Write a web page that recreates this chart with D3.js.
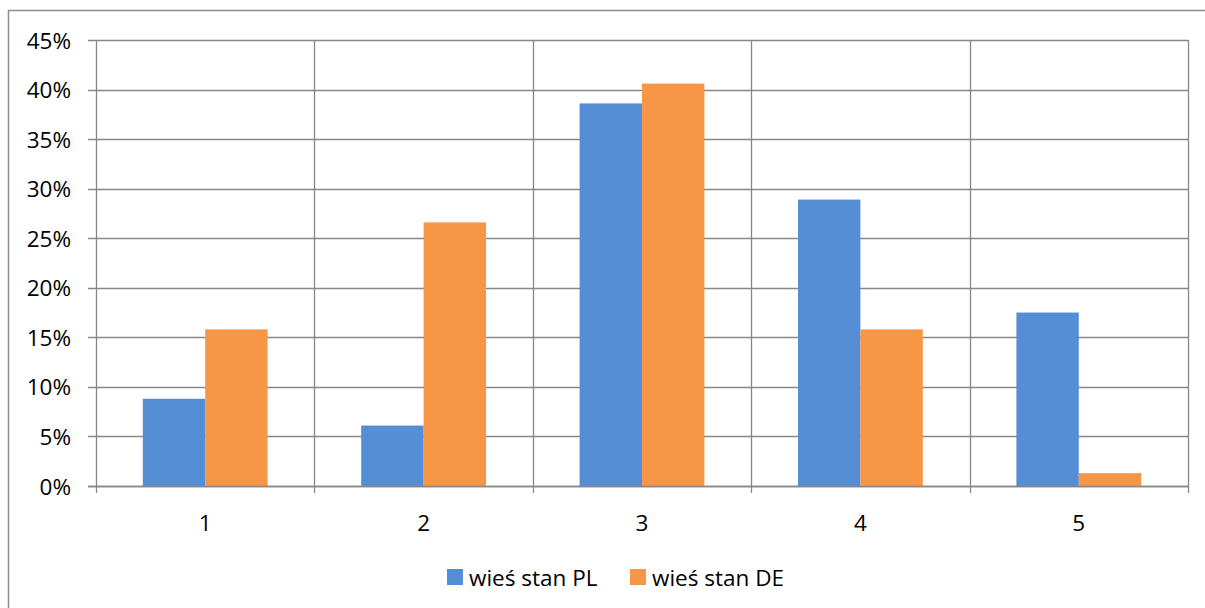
<!DOCTYPE html>
<html>
<head>
<meta charset="utf-8">
<script src="https://cdn.jsdelivr.net/npm/d3@7"></script>
<style>
  html, body { margin: 0; padding: 0; background: #fff; }
  svg { display: block; }
  text { font-family: "Open Sans", "Noto Sans", sans-serif; fill: #000; }
</style>
</head>
<body>
<svg id="chart" width="1205" height="608"></svg>
<script>
// ---- data ----
const categories = ["1", "2", "3", "4", "5"];
const seriesNames = ["wieś stan PL", "wieś stan DE"];
const valuesPL = [0.088, 0.061, 0.386, 0.289, 0.175];
const valuesDE = [0.158, 0.266, 0.406, 0.158, 0.013];
const yTicks = [0, 0.05, 0.10, 0.15, 0.20, 0.25, 0.30, 0.35, 0.40, 0.45];
const seriesColors = ["#558ed5", "#f79646"];

const svg = d3.select("#chart");
const W = 1205, H = 608;
const plot = { left: 96, right: 1188, top: 40, bottom: 486 };
const gridColor = "#878787";
const fontSize = "22.5px";

// outer frame (extends beyond visible area)
svg.append("rect")
  .attr("x", 8.5).attr("y", 10.5)
  .attr("width", W + 20).attr("height", H + 20)
  .attr("fill", "#fff").attr("stroke", "#8c8c8c").attr("stroke-width", 1.5);

const y = d3.scaleLinear().domain([0, 0.45]).range([plot.bottom, plot.top]);
const x = d3.scaleBand().domain(categories).range([plot.left, plot.right]).padding(0);
const xs = d3.scaleBand().domain(seriesNames).range([0, x.bandwidth()])
  .paddingInner(0).paddingOuter(0.75);

// horizontal gridlines + left ticks
const g = svg.append("g");
g.selectAll("line.h").data(yTicks).join("line")
  .attr("class", "h")
  .attr("x1", plot.left - 8).attr("x2", plot.right)
  .attr("y1", d => Math.round(y(d)) + 0.5).attr("y2", d => Math.round(y(d)) + 0.5)
  .attr("stroke", gridColor).attr("stroke-width", 1.3);

// vertical gridlines at category boundaries
const bounds = categories.map(c => x(c)).concat([plot.right]);
g.selectAll("line.v").data(bounds).join("line")
  .attr("class", "v")
  .attr("x1", d => Math.round(d) + 0.5).attr("x2", d => Math.round(d) + 0.5)
  .attr("y1", plot.top).attr("y2", plot.bottom + 7)
  .attr("stroke", gridColor).attr("stroke-width", 1.3);

// y labels
svg.selectAll("text.yl").data(yTicks).join("text")
  .attr("class", "yl")
  .attr("x", 71).attr("y", d => y(d))
  .attr("text-anchor", "end").attr("dominant-baseline", "central")
  .style("font-size", fontSize)
  .text(d => d3.format(".0%")(d));

// bars
const data = categories.map((c, i) => ({ cat: c, vals: [valuesPL[i], valuesDE[i]] }));
const cg = svg.selectAll("g.cat").data(data).join("g")
  .attr("class", "cat")
  .attr("transform", d => `translate(${x(d.cat)},0)`);
cg.selectAll("rect").data(d => d.vals.map((v, j) => ({ v, s: seriesNames[j], j })))
  .join("rect")
  .attr("x", d => xs(d.s)).attr("width", xs.bandwidth())
  .attr("y", d => y(d.v)).attr("height", d => plot.bottom - y(d.v))
  .attr("fill", d => seriesColors[d.j]);

// baseline redraw on top
svg.append("line")
  .attr("x1", plot.left - 8).attr("x2", plot.right)
  .attr("y1", Math.round(y(0)) + 0.5).attr("y2", Math.round(y(0)) + 0.5)
  .attr("stroke", gridColor).attr("stroke-width", 1.3);

// x labels
svg.selectAll("text.xl").data(categories).join("text")
  .attr("class", "xl")
  .attr("x", d => x(d) + x.bandwidth() / 2).attr("y", 522)
  .attr("text-anchor", "middle").attr("dominant-baseline", "central")
  .style("font-size", fontSize)
  .text(d => d);

// legend
const legendItems = [
  { name: seriesNames[0], color: seriesColors[0], x: 447 },
  { name: seriesNames[1], color: seriesColors[1], x: 630 }
];
const lg = svg.selectAll("g.leg").data(legendItems).join("g")
  .attr("class", "leg")
  .attr("transform", d => `translate(${d.x},577)`);
lg.append("rect").attr("x", 0).attr("y", -8).attr("width", 16).attr("height", 16)
  .attr("fill", d => d.color);
lg.append("text").attr("x", 22).attr("y", 0)
  .attr("dominant-baseline", "central")
  .style("font-size", fontSize)
  .text(d => d.name);
</script>
</body>
</html>
